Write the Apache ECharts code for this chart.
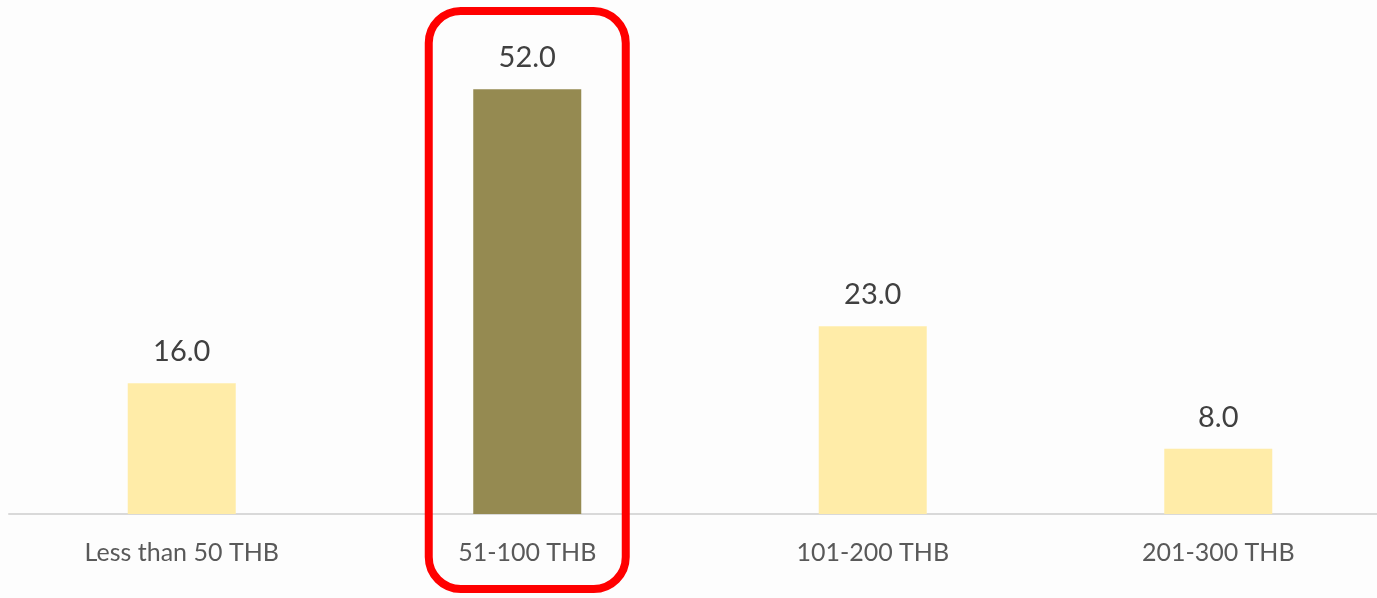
<!DOCTYPE html>
<html>
<head>
<meta charset="utf-8">
<script src="https://cdn.jsdelivr.net/npm/echarts@6/dist/echarts.min.js"></script>
<style>
  html, body { margin: 0; padding: 0; background: #fdfdfd; }
  #chart { width: 1377px; height: 598px; }
</style>
</head>
<body>
<div id="chart"></div>
<script>
const categories = ['Less than 50 THB', '51-100 THB', '101-200 THB', '201-300 THB'];
const values = [16.0, 52.0, 23.0, 8.0];
const highlightIndex = 1;

const chart = echarts.init(document.getElementById('chart'));

chart.setOption({
  backgroundColor: '#fdfdfd',
  animation: false,
  grid: { left: 9, width: 1382, top: 24, bottom: 84, containLabel: false, outerBoundsMode: 'none' },
  xAxis: {
    type: 'category',
    data: categories,
    axisLine: { lineStyle: { color: '#d9d9d9', width: 2 } },
    axisTick: { show: false },
    axisLabel: {
      color: '#595959',
      fontFamily: 'Lato',
      fontSize: 25,
      margin: 26
    }
  },
  yAxis: {
    type: 'value',
    min: 0,
    max: 60,
    show: false,
    splitLine: { show: false }
  },
  series: [
    {
      type: 'bar',
      barWidth: 108,
      data: values.map((v, i) => ({
        value: v,
        itemStyle: { color: i === highlightIndex ? '#958a51' : '#ffeca8' }
      })),
      label: {
        show: true,
        position: 'top',
        distance: 17,
        color: '#404040',
        fontFamily: 'Lato',
        fontSize: 29,
        formatter: p => p.value.toFixed(1)
      }
    }
  ]
});

// red rounded frame around the highlighted category
const cx = chart.convertToPixel({ xAxisIndex: 0 }, categories[highlightIndex]);
const halfW = 98.5;
chart.setOption({
  graphic: [{
    type: 'rect',
    shape: { x: cx - halfW, y: 11, width: halfW * 2, height: 578, r: 32 },
    style: { fill: 'none', stroke: '#ff0000', lineWidth: 8 },
    z: 100
  }]
});
</script>
</body>
</html>
